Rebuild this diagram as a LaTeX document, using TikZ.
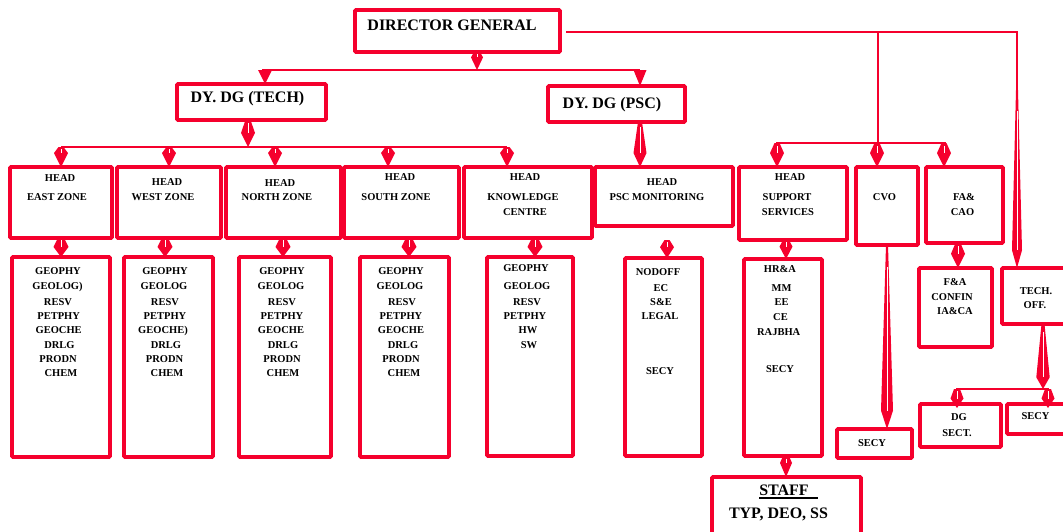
\documentclass[tikz,border=0pt]{standalone}
\usepackage{fontspec}
\setmainfont{Liberation Serif}
\usetikzlibrary{calc}
\definecolor{orgred}{RGB}{245,0,45}
\tikzset{
 box/.style={draw=orgred,line width=3.8pt,rounded corners=1pt,inner sep=0pt,outer sep=0pt,anchor=north west},
 bus/.style={draw=orgred,line width=2pt},
 sm/.style={font=\fontsize{10.5}{12}\selectfont\bfseries,inner sep=0pt,anchor=base,text=black},
 big/.style={font=\fontsize{16}{19}\selectfont\bfseries,inner sep=0pt,anchor=base,text=black},
}
% box: name, x1, y1, x2, y2
\newcommand\bx[5]{\node[box,minimum width={(#4-#2)*1pt},minimum height={(#5-#3)*1pt}] (#1) at (#2,#3) {};}
% notched arrow: start, end, half width, fraction of widest point, half width at top
\newcommand\kite[5]{%
 \fill[orgred] ($(#1)-(#5,0)$) -- ($(#1)+(#5,0)$) -- ($(#1)!#4!(#2)+(#3,0)$) -- (#2) -- ($(#1)!#4!(#2)-(#3,0)$) -- cycle;
 \draw[white,line width=1pt] ($(#1)!0.12!(#2)$) -- ($(#1)!#4!(#2)$);}
% plain triangle arrow: start, end, half width
\newcommand\tri[3]{\fill[orgred] ($(#1)-(#3,0)$) -- ($(#1)+(#3,0)$) -- (#2) -- cycle;}
% texts: name prefix, list x/y/text
\newcommand\txts[2]{\foreach \xx/\yy/\tx [count=\i] in {#2} {\node[sm] (#1\i) at (\xx,\yy) {\tx};}}
\begin{document}
\begin{tikzpicture}[x=1pt,y=-1pt]
\useasboundingbox (0,0) rectangle (1063,531);
\clip (0,0) rectangle (1063,531);

% ---------- boxes ----------
\bx{dg}{355}{10}{560}{52}
\bx{dyt}{177}{84}{326}{120}
\bx{dyp}{548}{86}{685}{122}
\bx{east}{10}{167}{112}{238}
\bx{west}{117}{167}{221}{238}
\bx{north}{226}{167}{341}{238}
\bx{south}{344}{167}{459}{238}
\bx{know}{464}{167}{592}{238}
\bx{pscm}{595}{167}{733}{226}
\bx{supp}{739}{167}{847}{240}
\bx{cvo}{856}{167}{918}{245}
\bx{fa}{926}{167}{1003}{243}
\bx{eastl}{12}{257}{110}{457}
\bx{westl}{124}{257}{213}{457}
\bx{northl}{239}{257}{331}{457}
\bx{southl}{360}{257}{449}{457}
\bx{knowl}{487}{257}{573}{456}
\bx{pscl}{625}{258}{702}{456}
\bx{suppl}{744}{259}{822}{456}
\bx{facon}{919}{268}{992}{347}
\bx{techoff}{1002}{268}{1078}{324}
\bx{cvosecy}{837}{429}{912}{458}
\bx{dgsect}{920}{404}{1001}{447}
\bx{techsecy}{1007}{404}{1078}{434}
\bx{staff}{712}{477}{861}{545}

% ---------- DG to deputies ----------
\coordinate (b1l) at ($(dyt.north west)+(85,-14)$);
\coordinate (a1s) at ($(dg.south west)+(122,0)$);
\coordinate (a1e) at (a1s |- b1l);
\coordinate (t1e) at ($(dyt.north west)+(88,0)$);
\coordinate (t1s) at (t1e |- b1l);
\coordinate (t2e) at ($(dyp.north west)+(92,0)$);
\coordinate (t2s) at (t2e |- b1l);
\draw[bus] (b1l) -- (t2s);
\kite{a1s}{a1e}{6}{0.3}{3}
\tri{t1s}{t1e}{7}
\tri{t2s}{t2e}{6.5}

% ---------- DG right branch ----------
\coordinate (r0) at ($(dg.east)+(6,1)$);
\coordinate (r1) at ($(cvo.north west)+(22,-135)$);
\coordinate (r2) at ($(techoff.north west)+(15,-236)$);
\coordinate (r3) at ($(techoff.north west)+(15,-178)$);
\coordinate (te) at ($(techoff.north west)+(15,0)$);
\draw[bus] (r0) -- (r2) -- (r3);
\coordinate (s1e) at ($(supp.north west)+(38,0)$);
\coordinate (c1e) at ($(cvo.north west)+(21,0)$);
\coordinate (f1e) at ($(fa.north west)+(18,0)$);
\coordinate (b3m) at ($(cvo.north west)+(22,-24)$);
\coordinate (s1s) at (s1e |- b3m);
\coordinate (c1s) at (c1e |- b3m);
\coordinate (f1s) at (f1e |- b3m);
\draw[bus] (r1) -- (b3m);
\draw[bus] ($(s1s)-(1,0)$) -- ($(f1s)+(2,0)$);
\kite{s1s}{s1e}{7}{0.42}{2.5}
\kite{c1s}{c1e}{7}{0.42}{2.5}
\kite{f1s}{f1e}{7}{0.42}{2.5}
\kite{r3}{te}{5}{0.9}{1}

% ---------- DY DG (TECH) to zones ----------
\coordinate (d1s) at ($(dyt.south west)+(71,0)$);
\coordinate (b2l) at ($(east.north west)+(51,-20)$);
\coordinate (d1e) at (d1s |- b2l);
\coordinate (z1e) at ($(east.north west)+(51,0)$);
\coordinate (z2e) at ($(west.north west)+(52,0)$);
\coordinate (z3e) at ($(north.north west)+(49,0)$);
\coordinate (z4e) at ($(south.north west)+(44,0)$);
\coordinate (z5e) at ($(know.north west)+(43,0)$);
\coordinate (z1s) at (z1e |- b2l);
\coordinate (z2s) at (z2e |- b2l);
\coordinate (z3s) at (z3e |- b2l);
\coordinate (z4s) at (z4e |- b2l);
\coordinate (z5s) at (z5e |- b2l);
\draw[bus] (z1s) -- (z5s);
\kite{d1s}{d1e}{7}{0.48}{2.5}
\kite{z1s}{z1e}{7}{0.3}{2.5}
\kite{z2s}{z2e}{7}{0.3}{2.5}
\kite{z3s}{z3e}{7}{0.3}{2.5}
\kite{z4s}{z4e}{7}{0.3}{2.5}
\kite{z5s}{z5e}{7}{0.3}{2.5}

% ---------- DY DG (PSC) ----------
\coordinate (p1s) at ($(dyp.south west)+(92,0)$);
\coordinate (p1e) at ($(pscm.north west)+(45,0)$);
\kite{p1s}{p1e}{6.5}{0.69}{2}

% ---------- zones to lists ----------
\coordinate (l1s) at ($(east.south west)+(51,0)$);   \coordinate (l1e) at (l1s |- eastl.north);
\coordinate (l2s) at ($(west.south west)+(48,0)$);   \coordinate (l2e) at (l2s |- westl.north);
\coordinate (l3s) at ($(north.south west)+(57,0)$);  \coordinate (l3e) at (l3s |- northl.north);
\coordinate (l4s) at ($(south.south west)+(65,0)$);  \coordinate (l4e) at (l4s |- southl.north);
\coordinate (l5s) at ($(know.south west)+(71,0)$);   \coordinate (l5e) at (l5s |- knowl.north);
\coordinate (l6s) at ($(pscm.south west)+(72,14)$);  \coordinate (l6e) at (l6s |- pscl.north);
\coordinate (l7s) at ($(supp.south west)+(47,0)$);   \coordinate (l7e) at (l7s |- suppl.north);
\coordinate (l8s) at ($(cvo.south west)+(31,0)$);    \coordinate (l8e) at (l8s |- cvosecy.north);
\coordinate (l9s) at ($(fa.south west)+(32,0)$);     \coordinate (l9e) at (l9s |- facon.north);
\kite{l1s}{l1e}{7.5}{0.47}{3}
\kite{l2s}{l2e}{7.5}{0.47}{3}
\kite{l3s}{l3e}{7.5}{0.47}{3}
\kite{l4s}{l4e}{7.5}{0.47}{3}
\kite{l5s}{l5e}{7.5}{0.47}{3}
\kite{l6s}{l6e}{7}{0.4}{2.5}
\kite{l7s}{l7e}{6.5}{0.35}{3}
\kite{l8s}{l8e}{6}{0.9}{1}
\kite{l9s}{l9e}{7}{0.43}{2.5}

% ---------- tech office ----------
\coordinate (o1s) at ($(techoff.south west)+(41,0)$);
\coordinate (b4l) at ($(dgsect.north west)+(36,-15)$);
\coordinate (o1e) at (o1s |- b4l);
\coordinate (o2e) at ($(dgsect.north west)+(37,4)$);
\coordinate (o3e) at ($(techsecy.north west)+(41,4)$);
\coordinate (o2s) at (o2e |- b4l);
\coordinate (o3s) at (o3e |- b4l);
\draw[bus] (b4l) -- ($(o3s)+(1,0)$);
\kite{o1s}{o1e}{6.7}{0.82}{1.5}
\kite{o2s}{o2e}{6.5}{0.5}{3}
\kite{o3s}{o3e}{6.5}{0.5}{3}

% ---------- support to staff ----------
\coordinate (st1s) at ($(suppl.south west)+(42,0)$);
\coordinate (st1e) at (st1s |- staff.north);
\kite{st1s}{st1e}{6}{0.33}{3}

% ---------- texts ----------
\node[big] (tdg) at (452,30) {DIRECTOR GENERAL};
\node[big] (tdyt) at (247.5,102.7) {DY. DG (TECH)};
\node[big] (tdyp) at (612,108.3) {DY. DG (PSC)};
\node[big] (tstaff) at (784,495.7) {STAFF};
\draw[black,line width=1.3pt] ($(tstaff.base west)+(0,2.3)$) -- ($(tstaff.base east)+(9,2.3)$);
\node[big] (ttyp) at (778.5,518.3) {TYP, DEO, SS};

\txts{he}{60/181/HEAD, 57/200/EAST ZONE}
\txts{hw}{167/185.7/HEAD, 163/200/WEST ZONE}
\txts{hn}{280/186/HEAD, 277/200/NORTH ZONE}
\txts{hs}{400/180.7/HEAD, 396/200/SOUTH ZONE}
\txts{hk}{525/180.7/HEAD, 523/200/KNOWLEDGE, 525/215/CENTRE}
\txts{hp}{662/185/HEAD, 657/200/PSC MONITORING}
\txts{hsu}{790/180.7/HEAD, 787/200/SUPPORT, 788/215/SERVICES}
\txts{hc}{884.5/200/CVO}
\txts{hf}{964/200/FA\&, 962.5/215/CAO}

\txts{le}{58/274/GEOPHY, 57.5/289.3/GEOLOG), 58/305/RESV, 58.7/319/PETPHY, 58.7/333.3/GEOCHE, 59.5/348.3/DRLG, 58/362.3/PRODN, 61/376/CHEM}
\txts{lw}{165/274/GEOPHY, 164/289.3/GEOLOG, 165/305/RESV, 165/319/PETPHY, 163/333.3/GEOCHE), 166/348.3/DRLG, 164.5/362.3/PRODN, 167/376/CHEM}
\txts{ln}{282/274/GEOPHY, 281/289.3/GEOLOG, 282/305/RESV, 282/319/PETPHY, 281/333.3/GEOCHE, 283/348.3/DRLG, 282/362.3/PRODN, 283/376/CHEM}
\txts{ls}{401/274/GEOPHY, 400/289.3/GEOLOG, 402/305/RESV, 401/319/PETPHY, 401/333.3/GEOCHE, 403/348.3/DRLG, 401/362.3/PRODN, 404/376/CHEM}
\txts{lk}{526/271.7/GEOPHY, 527/289/GEOLOG, 527/305/RESV, 525/319/PETPHY, 528/333/HW, 529/348/SW}
\txts{lp}{658/275/NODOFF, 661/291/EC, 661/305/S\&E, 660/319/LEGAL, 660/374/SECY}
\txts{lsu}{780/272.7/HR\&A, 781.5/291/MM, 781.7/305.7/EE, 780.5/320.7/CE, 778.7/335/RAJBHA, 780/372/SECY}
\txts{lf}{955/285/F\&A, 952/300/CONFIN, 955/314/IA\&CA}
\txts{lt}{1036/294/TECH., 1035/308/OFF.}
\txts{lc}{872/446/SECY}
\txts{ld}{959/420/DG, 957/436/SECT.}
\txts{lts}{1035.5/419/SECY}
\end{tikzpicture}
\end{document}
